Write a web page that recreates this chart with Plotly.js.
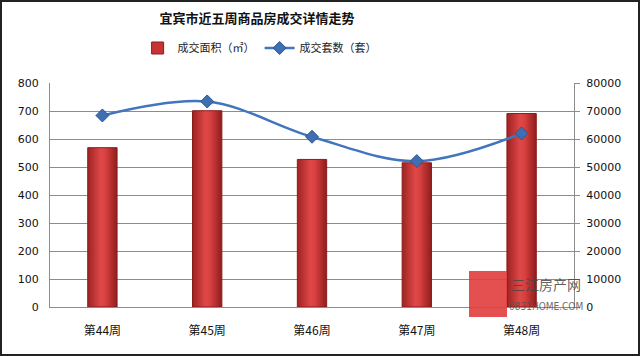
<!DOCTYPE html>
<html><head><meta charset="utf-8">
<script src="https://cdn.plot.ly/plotly-3.0.1.min.js"></script>
<style>
html,body{margin:0;padding:0;background:#fff;}
#wrap{position:relative;width:640px;height:356px;}
#chart{width:640px;height:356px;}
#frame{position:absolute;left:0;top:0;width:636px;height:352px;border:2px solid #222;pointer-events:none;}
</style></head>
<body>
<div id="wrap"><div id="chart"></div><div id="frame"></div></div>
<script>
const weeks = ['第44周','第45周','第46周','第47周','第48周'];
const areaValues = [569, 701, 527, 515, 691];
const unitValues = [68400, 73400, 60800, 52100, 62000];
const leftTicks = [0,100,200,300,400,500,600,700,800];
const rightTicks = [0,10000,20000,30000,40000,50000,60000,70000,80000];

const cjk = '"Noto Sans CJK SC", "DejaVu Sans", sans-serif';
const traces = [
  {type:'bar', name:'成交面积（㎡）', x:weeks, y:areaValues, yaxis:'y',
   marker:{color:'#c83434', line:{color:'#8a1c1c', width:1}}, width:0.28},
  {type:'scatter', mode:'lines+markers', name:'成交套数（套）', x:weeks, y:unitValues, yaxis:'y2',
   line:{color:'#4275be', width:2.5, shape:'spline', smoothing:1},
   marker:{symbol:'diamond', size:10, color:'#3f6fb3', line:{color:'#2b568f', width:1}}}
];
const layout = {
  width:640, height:356,
  margin:{l:50, r:66, t:83, b:49},
  paper_bgcolor:'#fff', plot_bgcolor:'#fff',
  title:{text:'<b>宜宾市近五周商品房成交详情走势</b>', x:257/640, xanchor:'center', xref:'container',
         y:1-18/356, yanchor:'middle', yref:'container', font:{family:cjk, size:13, color:'#111'}},
  showlegend:true,
  legend:{orientation:'h', x:0.40, xanchor:'center', y:(307-48)/224, yanchor:'middle',
          font:{family:cjk, size:11, color:'#222'}, itemwidth:30, bgcolor:'rgba(0,0,0,0)'},
  bargap:0.72,
  xaxis:{type:'category', showgrid:false, showline:true, linecolor:'#8c8c8c', linewidth:1,
         ticks:'', ticklabelstandoff:13, tickfont:{family:cjk, size:12, color:'#111'}, fixedrange:true},
  yaxis:{range:[0,800], tickvals:leftTicks, ticktext:leftTicks.map(String), showgrid:true, gridcolor:'#8c8c8c', gridwidth:1,
         showline:true, linecolor:'#8c8c8c', zeroline:false, ticks:'', ticklabelstandoff:8,
         tickfont:{family:'"DejaVu Sans", Verdana, sans-serif', size:11, color:'#111'}},
  yaxis2:{range:[0,80000], overlaying:'y', side:'right', tickvals:rightTicks, ticktext:rightTicks.map(String),
          showgrid:false, showline:true, linecolor:'#8c8c8c', zeroline:false, ticks:'outside', ticklen:5, tickcolor:'#8c8c8c',
          ticklabelstandoff:4, tickfont:{family:'"DejaVu Sans", Verdana, sans-serif', size:11, color:'#111'}},
  shapes:[
    {type:'rect', xref:'paper', yref:'paper', x0:419/524, x1:457/524, y0:(307-317)/224, y1:(307-271)/224,
     fillcolor:'rgba(225,60,60,0.9)', line:{width:0}, layer:'above'}
  ],
  annotations:[
    {xref:'paper', yref:'paper', x:(546-50)/524, y:(307-284)/224, xanchor:'center', yanchor:'middle', text:'三江房产网', showarrow:false,
     font:{family:cjk, size:14, color:'rgba(70,70,70,0.85)'}},
    {xref:'paper', yref:'paper', x:(546-50)/524, y:(307-306)/224, xanchor:'center', yanchor:'middle', text:'0831HOME.COM', showarrow:false,
     font:{family:'"DejaVu Sans Condensed", sans-serif', size:10, color:'rgba(80,80,80,0.85)'}}
  ]
};
Plotly.newPlot('chart', traces, layout, {displayModeBar:false, staticPlot:true}).then(function(gd){
  const svg = gd.querySelector('svg.main-svg');
  const ns = 'http://www.w3.org/2000/svg';
  let defs = svg.querySelector('defs');
  const g = document.createElementNS(ns,'linearGradient');
  g.setAttribute('id','barGrad'); g.setAttribute('x1','0'); g.setAttribute('x2','1'); g.setAttribute('y1','0'); g.setAttribute('y2','0');
  [['0','#9e2222'],['0.45','#e04848'],['0.6','#d94040'],['1','#8f1d1d']].forEach(function(s){
    const st = document.createElementNS(ns,'stop'); st.setAttribute('offset',s[0]); st.setAttribute('stop-color',s[1]); g.appendChild(st);
  });
  defs.appendChild(g);
  gd.querySelectorAll('.barlayer .point path').forEach(function(p){ p.style.fill = 'url(#barGrad)'; });
});
</script>
</body></html>
